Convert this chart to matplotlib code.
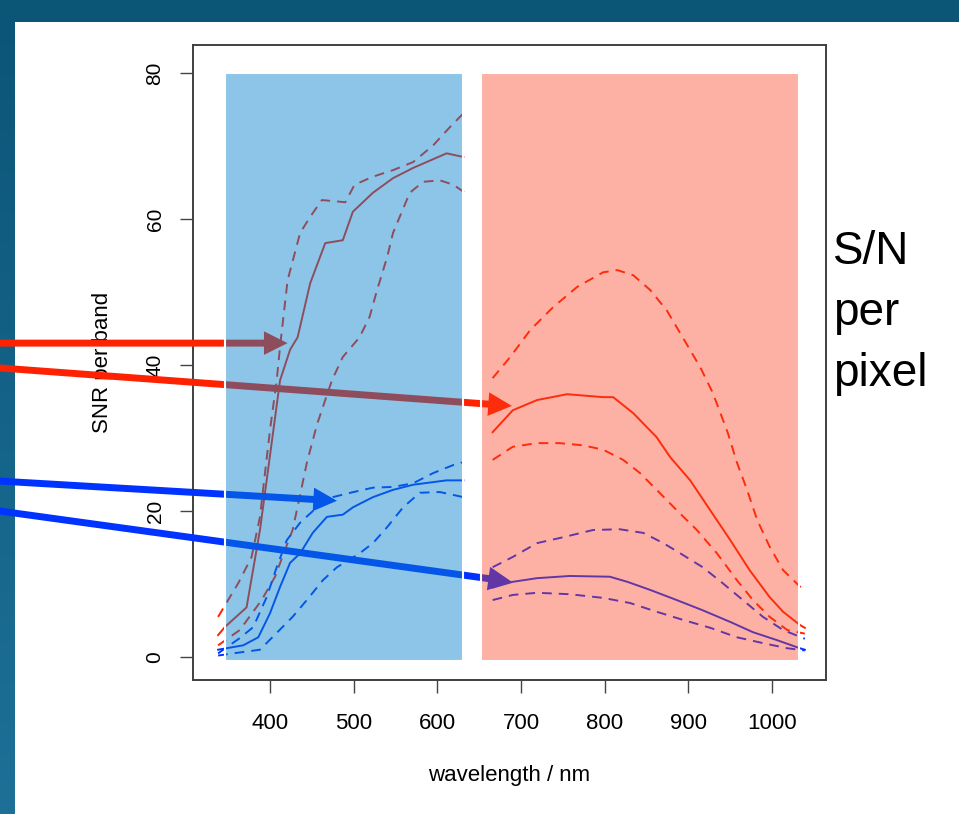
import numpy as np
import matplotlib
matplotlib.use("Agg")
import matplotlib.pyplot as plt
from matplotlib.patches import Rectangle

plt.rcParams['font.family'] = ['Liberation Sans', 'DejaVu Sans']

# --- data (wavelength in nm, SNR per band) ---
# red-line set, visible band (seen maroon through the blue band)
r_vis_mid_wl = [338, 346, 372, 388, 396, 412, 424, 433, 448, 466, 487, 499, 523, 547, 571, 611, 631]
r_vis_mid = [3.0, 4.1, 6.8, 17.4, 24.2, 37.9, 42.1, 43.8, 51.2, 56.7, 57.1, 61.0, 63.6, 65.6, 67.0, 69.0, 68.5]
r_vis_hi_wl = [338, 362, 378, 388, 394, 400, 408, 412, 421, 436, 448, 462, 490, 501, 523, 547, 571, 595, 615, 633]
r_vis_hi = [5.5, 10.1, 13.7, 19.2, 25.2, 31.1, 37.9, 42.5, 51.6, 58.1, 60.3, 62.6, 62.3, 64.7, 65.8, 66.7, 67.8, 70.1, 72.6, 74.7]
r_vis_lo_wl = [338, 364, 390, 406, 418, 427, 436, 444, 456, 466, 474, 487, 507, 519, 528, 540, 547, 555, 567, 583, 603, 619, 633]
r_vis_lo = [1.6, 3.7, 7.8, 11.0, 14.7, 17.4, 22.2, 26.6, 31.8, 35.2, 37.9, 41.1, 43.8, 46.6, 50.3, 54.8, 58.1, 60.3, 63.6, 65.1, 65.3, 64.7, 63.6]

# blue-line set, visible band
b_vis_mid_wl = [338, 368, 386, 400, 412, 424, 436, 451, 468, 487, 499, 523, 547, 571, 611, 631]
b_vis_mid = [1.0, 1.6, 2.7, 6.0, 9.6, 12.9, 14.2, 17.0, 19.2, 19.5, 20.5, 21.9, 22.9, 23.6, 24.2, 24.2]
b_vis_hi_wl = [338, 364, 380, 396, 408, 420, 436, 456, 475, 496, 523, 547, 571, 595, 619, 631]
b_vis_hi = [0.5, 2.6, 4.1, 8.2, 12.3, 16.0, 18.4, 20.5, 21.9, 22.5, 23.2, 23.3, 23.8, 25.2, 26.3, 26.7]
b_vis_lo_wl = [338, 356, 388, 408, 427, 444, 463, 480, 507, 523, 540, 559, 579, 603, 631]
b_vis_lo = [0.2, 0.5, 1.0, 3.3, 5.5, 7.8, 10.5, 12.3, 14.2, 15.6, 17.8, 20.5, 22.5, 22.6, 21.9]

# red-line set, near-infrared band
r_nir_mid_wl = [666, 690, 719, 755, 798, 810, 834, 862, 878, 902, 926, 950, 973, 997, 1013, 1033, 1039]
r_nir_mid = [30.8, 33.8, 35.2, 36.0, 35.6, 35.6, 33.4, 30.1, 27.4, 24.2, 20.1, 16.0, 11.9, 8.2, 6.2, 4.4, 4.0]
r_nir_hi_wl = [666, 687, 711, 738, 767, 798, 815, 834, 854, 874, 893, 914, 929, 947, 958, 970, 982, 997, 1013, 1039]
r_nir_hi = [38.2, 41.1, 44.8, 47.9, 50.7, 52.7, 53.0, 52.3, 50.3, 47.5, 43.8, 39.7, 36.2, 30.7, 26.6, 22.9, 18.8, 15.1, 11.9, 9.0]
r_nir_lo_wl = [666, 690, 719, 746, 774, 798, 822, 842, 862, 886, 910, 934, 958, 977, 997, 1018, 1039]
r_nir_lo = [27.0, 28.8, 29.3, 29.3, 29.0, 28.4, 27.0, 25.2, 22.9, 20.1, 17.4, 14.2, 10.5, 7.8, 5.5, 3.7, 3.2]

# blue-line set, near-infrared band (seen purple through the red band)
b_nir_mid_wl = [666, 690, 719, 758, 806, 827, 854, 886, 917, 950, 977, 1006, 1033, 1039]
b_nir_mid = [9.5, 10.3, 10.8, 11.1, 11.0, 10.3, 9.2, 7.8, 6.4, 4.8, 3.4, 2.3, 1.2, 1.0]
b_nir_hi_wl = [666, 690, 719, 750, 786, 818, 846, 870, 893, 917, 941, 965, 989, 1013, 1039]
b_nir_hi = [12.3, 13.7, 15.6, 16.4, 17.4, 17.5, 17.0, 15.6, 14.0, 12.3, 10.1, 7.8, 5.5, 3.7, 2.5]
b_nir_lo_wl = [666, 690, 719, 758, 798, 830, 862, 893, 926, 958, 989, 1018, 1039]
b_nir_lo = [7.8, 8.5, 8.8, 8.6, 8.1, 7.4, 6.2, 5.1, 4.0, 2.7, 1.9, 1.2, 0.9]

# shaded bands (nm)
vis_band = (346, 630)
nir_band = (652, 1032)
band_top = 80

x_ticks = [400, 500, 600, 700, 800, 900, 1000]
y_ticks = [0, 20, 40, 60, 80]

# pointer arrows: (start wl, start snr, tip wl, tip snr, colour)
arrows = [
    (77, 43.0, 421, 43.0, 'red'),
    (77, 39.6, 689, 34.4, 'red'),
    (77, 24.1, 480, 21.4, 'blue'),
    (77, 20.0, 689, 10.3, 'blue'),
]

RED = '#ff2200'
BLUE = '#0033ff'
colours = {'red': RED, 'blue': BLUE}

fig = plt.figure(figsize=(9.59, 8.14), dpi=100)

# slide background: dark blue gradient with a white panel on it
bg = fig.add_axes([0, 0, 1, 1], zorder=-5)
grad = np.linspace(0, 1, 256).reshape(-1, 1)
top_c = np.array([11, 85, 119]) / 255
bot_c = np.array([30, 112, 152]) / 255
img = top_c + (bot_c - top_c) * grad[:, :, None]
bg.imshow(img, aspect='auto', extent=[0, 1, 0, 1], origin='upper')
bg.add_patch(Rectangle((15 / 959, 0), 1, (814 - 22) / 814, facecolor='white', edgecolor='none'))
bg.set_xlim(0, 1)
bg.set_ylim(0, 1)
bg.axis('off')

ax = fig.add_axes([193 / 959, (814 - 680) / 814, 633 / 959, 635 / 814])
ax.set_facecolor('white')

dash = (5, 3.6)
lw = 1.4
curves = [
    (r_vis_mid_wl, r_vis_mid, RED, '-'), (r_vis_hi_wl, r_vis_hi, RED, '--'), (r_vis_lo_wl, r_vis_lo, RED, '--'),
    (b_vis_mid_wl, b_vis_mid, BLUE, '-'), (b_vis_hi_wl, b_vis_hi, BLUE, '--'), (b_vis_lo_wl, b_vis_lo, BLUE, '--'),
    (r_nir_mid_wl, r_nir_mid, RED, '-'), (r_nir_hi_wl, r_nir_hi, RED, '--'), (r_nir_lo_wl, r_nir_lo, RED, '--'),
    (b_nir_mid_wl, b_nir_mid, BLUE, '-'), (b_nir_hi_wl, b_nir_hi, BLUE, '--'), (b_nir_lo_wl, b_nir_lo, BLUE, '--'),
]
for wl, snr, c, ls in curves:
    line, = ax.plot(wl, snr, color=c, lw=lw, ls=ls, zorder=2, clip_on=False)
    if ls == '--':
        line.set_dashes(dash)

# arrows pointing in from the slide margin
for x0, y0, x1, y1, c in arrows:
    ax.annotate('', xy=(x1, y1), xytext=(x0, y0), xycoords='data', textcoords='data',
                annotation_clip=False, zorder=3,
                arrowprops=dict(arrowstyle='simple,head_length=17,head_width=17,tail_width=5',
                                mutation_scale=1, shrinkA=0, shrinkB=0,
                                fc=colours[c], ec='none'))

# translucent bands laid over curves and arrows
ax.add_patch(Rectangle((vis_band[0], -0.5), vis_band[1] - vis_band[0], band_top + 0.5,
                       facecolor=(7 / 255, 129 / 255, 205 / 255, 0.46), edgecolor='white', lw=1.5, zorder=4))
ax.add_patch(Rectangle((nir_band[0], -0.5), nir_band[1] - nir_band[0], band_top + 0.5,
                       facecolor=(250 / 255, 60 / 255, 30 / 255, 0.40), edgecolor='white', lw=1.5, zorder=4))

ax.set_xlim(308, 1064.3)
ax.set_ylim(-3.15, 83.84)
ax.set_xticks(x_ticks)
ax.set_yticks(y_ticks)
ax.tick_params(direction='out', length=9.5, width=1.0, color='#444444')
ax.tick_params(axis='x', labelsize=16, pad=14)
ax.tick_params(axis='y', labelsize=15, pad=11)
for lab in ax.get_yticklabels():
    lab.set_rotation(90)
    lab.set_va('center')
for s in ax.spines.values():
    s.set_color('#404040')
    s.set_linewidth(1.4)

ax.set_xlabel('wavelength / nm', fontsize=16)
ax.set_ylabel('SNR per band', fontsize=16)
ax.xaxis.set_label_coords(0.5, -0.134)
ax.yaxis.set_label_coords(-0.126, 0.5)

fig.text(833 / 959, 1 - 230 / 814, 'S/N\nper\npixel', fontsize=33, ha='left', va='top',
         linespacing=1.5, color='black')

fig.savefig('out.png', dpi=100)
